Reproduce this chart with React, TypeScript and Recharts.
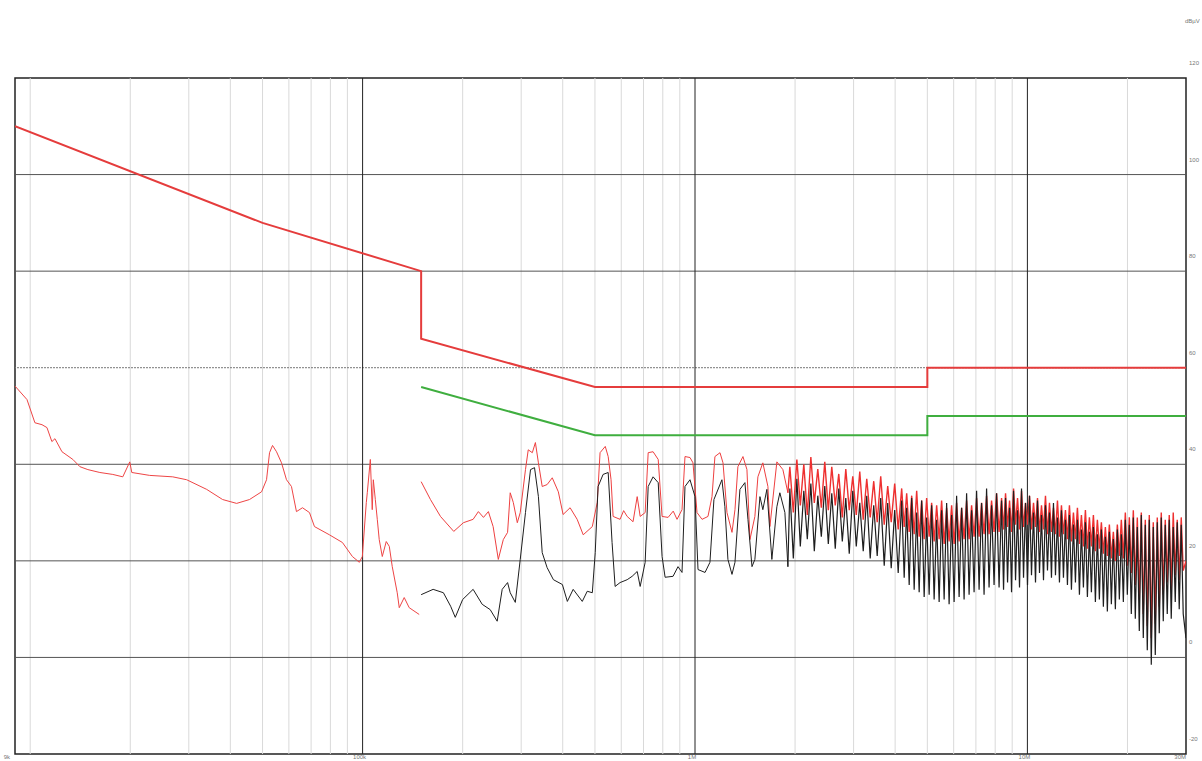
import React from 'react';
import { LineChart, Line, XAxis, YAxis, ReferenceLine, ReferenceArea } from 'recharts';

// ---- axes (frequency in kHz, level in dBµV) ----
const xTicks = [9, 100, 1000, 10000, 30000];
const xTickLabels = ['9k', '100k', '1M', '10M', '30M'];
const yTicks = [-20, 0, 20, 40, 60, 80, 100, 120];
const majorFreqs = [100, 1000, 10000];
const minorFreqs = [10, 20, 30, 40, 50, 60, 70, 80, 90, 200, 300, 400, 500, 600, 700, 800, 900,
  2000, 3000, 4000, 5000, 6000, 7000, 8000, 9000, 20000];
const solidLevels = [0, 20, 40, 80, 100];
const dottedLevels = [60];

// ---- limit lines ----
const qpLimitFreq = [9, 50, 150, 150, 500, 5000, 5000, 30000];
const qpLimitLevel = [110, 90, 80, 66, 56, 56, 60, 60];
const avgLimitFreq = [150, 500, 5000, 5000, 30000];
const avgLimitLevel = [56, 46, 46, 50, 50];

// ---- peak trace 9 kHz - 150 kHz ----
const peakLowFreq = [9, 9.78, 10.33, 10.85, 11.23, 11.62, 11.87, 12.46, 13.44, 14.11, 14.91, 16.2, 17.72, 18.99,
  19.93, 20.21, 22.88, 26.84, 29.56, 33.96, 37.92, 41.78, 45.68, 49.66, 51.4, 52.48, 53.58, 55.08, 57.02,
  59.02, 61.09, 63.24, 65.94, 69.21, 71.64, 79.45, 86.95, 93.16, 97.77, 99.8, 102.6, 103.3, 105.5, 106.9,
  107.7, 109.2, 110.7, 112.2, 114.6, 117.8, 120.3, 122.8, 127.1, 128.9, 133.4, 138.1, 148];
const peakLowLevel = [56.2, 53.4, 48.6, 48.2, 47.6, 44.7, 45.3, 42.6, 41.0, 39.5, 38.9, 38.3, 37.9, 37.4,
  40.5, 38.3, 37.7, 37.4, 36.8, 34.8, 32.7, 31.9, 32.7, 34.3, 36.8, 42.4, 43.9, 42.6, 40.3,
  36.8, 35.4, 30.2, 31.0, 30.0, 27.1, 25.4, 23.8, 20.9, 19.7, 20.9, 32.1, 34.1, 41.0, 30.6,
  36.8, 32.7, 28.6, 24.4, 20.9, 24.0, 23.0, 18.8, 13.4, 10.3, 12.4, 10.3, 8.9];

// ---- peak trace 150 kHz - 1.9 MHz ----
const peakMidFreq = [150, 160, 171.5, 188, 201, 215, 223, 231, 239, 247, 256, 265, 273, 278, 284, 292, 298,
  309, 315, 324, 331, 338, 347, 359, 372, 388, 401, 421, 442, 461, 491, 508, 518, 537, 548, 559, 567, 595,
  610, 625, 651, 670, 684, 708, 723, 748, 775, 796, 830, 860, 883, 914, 933, 966, 986, 1014, 1050, 1094,
  1125, 1148, 1189, 1214, 1248, 1292, 1319, 1346, 1394, 1433, 1463, 1514, 1546, 1600, 1657, 1680, 1763,
  1838, 1903];
const peakMidLevel = [36.4, 32.7, 29.2, 26.1, 27.9, 28.6, 30.2, 29.0, 30.2, 27.1, 20.3, 24.4, 25.9, 34.1, 32.1, 27.9, 30.0,
  38.9, 43.0, 42.4, 44.5, 40.3, 35.4, 35.8, 37.2, 34.3, 29.6, 31.0, 28.6, 25.4, 27.1, 32.1, 42.4, 43.7, 41.6, 36.8, 29.2, 28.6,
  30.4, 29.2, 28.1, 33.3, 29.2, 30.0, 42.4, 42.6, 41.0, 29.2, 29.0, 30.3, 28.6, 30.6, 41.6, 41.4, 40.3, 30.0, 28.6, 29.2,
  33.3, 41.6, 42.4, 40.3, 30.0, 25.9, 30.6, 39.5, 41.6, 38.9, 24.4, 29.2, 37.4, 40.3, 35.4, 27.1, 40.5,
  38.9, 34.1];

// ---- average trace 150 kHz - 1.9 MHz ----
const avgMidFreq = [150, 163, 175, 184, 190, 200, 215, 229, 242, 254, 263, 273, 278, 288, 298, 309, 320, 329,
  338, 347, 359, 375, 399, 413, 430, 458, 474, 491, 501, 511, 529, 548, 563, 575, 595, 625, 647, 670, 684,
  708, 723, 748, 775, 796, 813, 859, 889, 914, 933, 966, 1000, 1021, 1072, 1109, 1140, 1205, 1230, 1256,
  1292, 1319, 1365, 1413, 1443, 1484, 1514, 1568, 1600, 1645, 1703, 1763, 1800, 1864, 1903];
const avgMidLevel = [13.0, 14.1, 13.4, 10.6, 8.3, 12.0, 14.1, 11.0, 9.9, 7.5, 14.1, 15.5, 13.4, 11.4, 20.3, 30.0, 38.9, 39.3,
  33.3, 21.7, 18.6, 16.1, 15.1, 11.6, 14.1, 11.6, 13.7, 13.4, 21.7, 35.4, 37.9, 38.3, 23.8, 14.7, 15.5, 16.1, 16.8, 17.8, 14.7,
  19.7, 35.4, 37.4, 36.2, 20.9, 16.6, 16.8, 18.8, 17.6, 35.4, 36.8, 33.3, 18.2, 17.6, 19.7, 32.7, 36.8, 31.2, 20.3,
  17.2, 19.7, 34.8, 36.2, 28.6, 18.8, 20.3, 33.3, 30.6, 34.8, 20.3, 31.2, 34.1, 30.0, 18.8];

// ---- dense harmonic region 1.9 MHz - 30 MHz (shared frequencies) ----
const denseFreq = [1929, 1976, 2025, 2074, 2125, 2177, 2231, 2285, 2341, 2399, 2457, 2518, 2579, 2642, 2707, 2774,
  2842, 2911, 2983, 3056, 3131, 3207, 3286, 3366, 3449, 3533, 3620, 3709, 3800, 3893, 3988, 4086, 4186,
  4259, 4333, 4409, 4486, 4564, 4644, 4725, 4807, 4891, 4976, 5063, 5151, 5241, 5333, 5426, 5520, 5617, 5715,
  5814, 5916, 6019, 6124, 6231, 6340, 6450, 6563, 6677, 6794, 6912, 7033, 7156, 7280, 7407, 7537, 7668, 7802,
  7938, 8077, 8218, 8361,
  8477, 8595, 8715, 8837, 8960, 9085, 9211, 9339, 9469, 9601, 9735, 9870, 10008, 10147, 10288, 10432, 10577,
  10724, 10874, 11025, 11179, 11334, 11492, 11652, 11814, 11979, 12146, 12315, 12486, 12660, 12836, 13015,
  13196, 13380, 13566, 13755, 13947, 14141, 14338, 14538, 14740, 14945, 15153, 15364, 15578, 15795, 16015,
  16238, 16464, 16693, 16926, 17161, 17400, 17643, 17888, 18137, 18390, 18646, 18906, 19169, 19436, 19707,
  19981, 20259, 20541, 20827, 21117, 21411, 21709, 22012, 22318, 22629, 22944, 23264, 23588, 23916, 24249,
  24587, 24929, 25276, 25628, 25985, 26347, 26714, 27086, 27463, 27845, 28233, 28626, 29025, 29429, 30000];
const densePeak = [39.5, 30.0, 41.0, 31.5, 40.0, 29.5, 41.5, 32.0, 39.0, 31.0, 40.5, 30.5, 39.5, 31.5, 38.0, 29.0,
  39.0, 30.5, 37.5, 29.5, 38.5, 28.5, 37.0, 29.0, 36.5, 28.0, 37.5, 27.5, 35.5, 28.0, 36.0, 26.5, 35.0,
  27.0, 34.0, 26.0, 33.5, 25.5, 34.5, 25.0, 32.5, 24.5, 33.0, 25.0, 32.0, 24.0, 31.5, 24.5, 32.5, 23.5, 31.0,
  24.0, 31.5, 23.5, 32.0, 24.0, 31.0, 24.5, 32.5, 24.5, 31.5, 25.0, 33.0, 25.0, 32.0, 25.5, 33.5, 25.5, 32.5,
  26.0, 34.0, 26.0, 33.0,
  26.5, 34.0, 27.0, 32.5, 26.0, 35.0, 27.5, 33.0, 26.5, 34.5, 27.0, 32.0, 27.5, 33.5, 26.5, 32.0, 27.0,
  33.0, 26.0, 31.5, 26.5, 33.5, 25.5, 32.0, 26.0, 31.0, 25.5, 32.5, 25.0, 31.5, 25.5, 30.5,
  24.5, 31.5, 24.0, 30.0, 24.5, 31.0, 23.5, 29.5, 23.0, 30.5, 22.5, 29.0, 23.0, 29.5, 22.0,
  28.5, 22.5, 28.0, 21.5, 27.0, 21.0, 27.5, 20.5, 26.0, 20.0, 27.5, 21.0, 28.5, 20.5, 30.0,
  19.0, 29.0, 17.5, 30.5, 15.0, 29.0, 12.0, 30.0, 9.0, 28.5, 6.5, 29.5, 4.0, 28.0, 7.0,
  29.0, 10.5, 30.0, 13.0, 28.5, 15.5, 29.5, 14.0, 30.0, 17.0, 28.5, 16.0, 29.0, 18.0, 20.0];
const denseAvg = [35.0, 20.5, 37.0, 23.0, 34.5, 24.5, 36.0, 22.0, 33.5, 25.0, 35.5, 23.5, 34.0, 22.5, 35.0, 24.0,
  33.0, 21.5, 34.5, 23.0, 32.0, 22.0, 33.5, 20.5, 31.5, 21.0, 33.0, 19.0, 32.0, 18.5, 30.5, 17.5, 32.5,
  16.5, 31.0, 15.0, 33.0, 14.0, 30.0, 13.5, 32.5, 12.5, 29.0, 13.0, 31.5, 12.0, 28.5, 11.5, 30.5, 12.0, 32.0,
  11.0, 29.5, 11.5, 33.5, 12.5, 31.0, 12.0, 34.0, 13.0, 30.5, 13.5, 34.5, 14.0, 32.0, 13.0, 35.0, 14.5, 31.5,
  15.0, 34.0, 14.5, 32.5,
  14.0, 33.0, 15.5, 31.0, 13.5, 34.5, 16.0, 30.5, 14.5, 35.0, 16.5, 32.0, 15.0, 33.5, 17.0, 30.0, 15.5,
  32.5, 17.5, 29.5, 16.0, 31.5, 18.0, 30.0, 16.5, 32.0, 17.0, 29.0, 15.5, 30.5, 16.5, 28.5,
  15.0, 29.5, 14.0, 27.5, 15.5, 28.5, 13.0, 26.5, 14.5, 28.0, 12.5, 26.0, 13.5, 27.0, 11.5,
  25.5, 12.0, 26.5, 10.5, 25.0, 9.5, 26.0, 11.0, 24.5, 10.0, 26.5, 12.0, 25.5, 11.5, 28.5,
  13.0, 27.5, 9.0, 29.0, 8.0, 27.0, 5.5, 29.5, 4.0, 27.5, 1.5, 28.5, -1.5, 27.0, 0.5,
  28.0, 5.0, 29.0, 7.5, 27.5, 9.0, 28.5, 8.0, 27.0, 11.5, 28.0, 10.0, 27.5, 9.0, 4.0];

const pts = (fs: number[], vs: number[]) => fs.map((f, i) => ({ f, v: vs[i] }));

const qpLimit = pts(qpLimitFreq, qpLimitLevel);
const avgLimit = pts(avgLimitFreq, avgLimitLevel);
const peakLow = pts(peakLowFreq, peakLowLevel);
const peakMid = pts(peakMidFreq, peakMidLevel);
const avgMid = pts(avgMidFreq, avgMidLevel);
const peakDense = [peakMid[peakMid.length - 1], ...pts(denseFreq, densePeak)];
const avgDense = [avgMid[avgMid.length - 1], ...pts(denseFreq, denseAvg)];

const FONT = '"Liberation Sans", Arial, sans-serif';

const XTick = (p: any) => {
  const i = xTicks.indexOf(p.payload.value);
  const label = xTickLabels[i];
  let anchor: 'start' | 'middle' | 'end' = 'middle';
  let dx = -3;
  if (i === 0) { anchor = 'end'; dx = -5; }
  if (i === xTicks.length - 1) { anchor = 'end'; dx = 0; }
  return (
    <text x={p.x + dx} y={759} fontSize={6} fill="#777" textAnchor={anchor} fontFamily={FONT}>{label}</text>
  );
};

const YTick = (p: any) => (
  <text x={1189} y={p.y - 13} fontSize={6} fill="#777" textAnchor="start" fontFamily={FONT}>{p.payload.value}</text>
);

export default function App() {
  return (
    <div style={{ position: 'absolute', left: 0, top: 0, width: 1202, height: 761, background: '#fff' }}>
      <LineChart width={1202} height={761} margin={{ top: 78, right: 0, left: 15, bottom: 0 }}>
        <XAxis dataKey="f" type="number" scale="log" domain={[9, 30000]} allowDataOverflow
          ticks={xTicks} tick={<XTick />} height={7} axisLine={false} tickLine={false} interval={0} />
        <YAxis yAxisId={0} orientation="right" type="number" domain={[-20, 120]} allowDataOverflow
          ticks={yTicks} tick={<YTick />} width={16} axisLine={false} tickLine={false} interval={0} />
        {minorFreqs.map((f) => (
          <ReferenceLine key={'mf' + f} x={f} stroke="#d9d9d9" strokeWidth={1} />
        ))}
        {solidLevels.map((l) => (
          <ReferenceLine key={'sl' + l} y={l} stroke="#555" strokeWidth={1} />
        ))}
        {dottedLevels.map((l) => (
          <ReferenceLine key={'dl' + l} y={l} stroke="#777" strokeWidth={1} strokeDasharray="2 1" />
        ))}
        {majorFreqs.map((f) => (
          <ReferenceLine key={'Mf' + f} x={f} stroke="#222" strokeWidth={1} />
        ))}
        <ReferenceArea x1={9} x2={30000} y1={-20} y2={120} fill="none" stroke="#222" strokeWidth={1.5} />
        <Line data={qpLimit} dataKey="v" type="linear" stroke="#e53c3c" strokeWidth={2} dot={false} isAnimationActive={false} />
        <Line data={avgLimit} dataKey="v" type="linear" stroke="#3fae3f" strokeWidth={2} dot={false} isAnimationActive={false} />
        <Line data={peakLow} dataKey="v" type="linear" stroke="#ee4545" strokeWidth={1} dot={false} isAnimationActive={false} />
        <Line data={peakMid} dataKey="v" type="linear" stroke="#ee4040" strokeWidth={1} dot={false} isAnimationActive={false} />
        <Line data={peakDense} dataKey="v" type="linear" stroke="#ee3030" strokeWidth={1.4} dot={false} isAnimationActive={false} />
        <Line data={avgMid} dataKey="v" type="linear" stroke="#1e1e1e" strokeWidth={1} dot={false} isAnimationActive={false} />
        <Line data={avgDense} dataKey="v" type="linear" stroke="#1e1e1e" strokeWidth={1.2} dot={false} isAnimationActive={false} />
      </LineChart>
      <div style={{ position: 'absolute', left: 1185, top: 18, fontSize: 6, color: '#777', fontFamily: FONT }}>dBµV</div>
    </div>
  );
}
